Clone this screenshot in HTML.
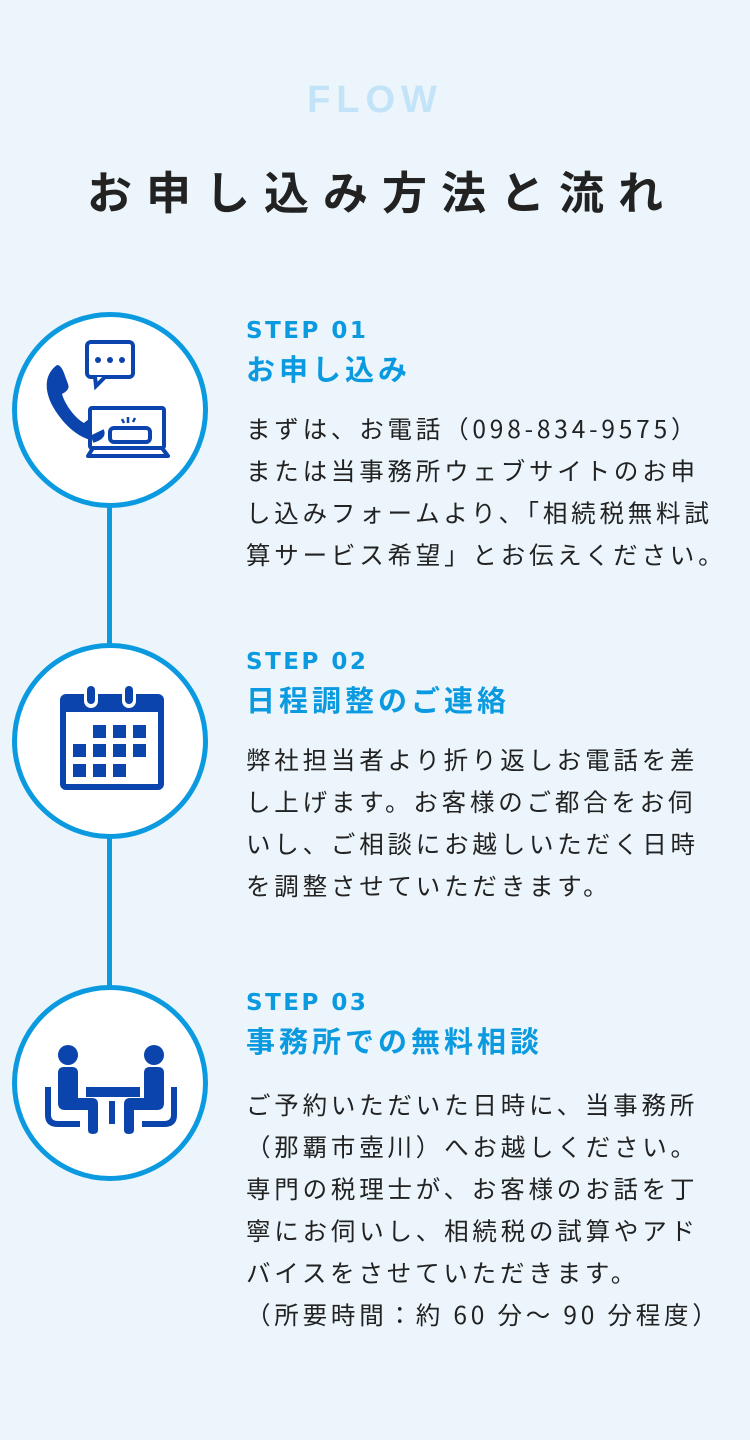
<!DOCTYPE html>
<html><head><meta charset="utf-8"><style>
body{margin:0;width:750px;height:1440px;background:#ebf5fb;position:relative;overflow:hidden;font-family:"Liberation Sans","Noto Sans CJK JP",sans-serif;}
.flow{position:absolute;top:78px;left:0;width:750px;text-align:center;font-size:38px;letter-spacing:6px;color:#c3e4f8;font-weight:bold;line-height:44px;}
h1{position:absolute;top:160px;left:0;width:750px;text-align:center;margin:0;font-size:45px;letter-spacing:14px;color:#222;font-weight:bold;line-height:60px;font-family:"Noto Sans CJK JP",sans-serif;padding-left:14px;box-sizing:border-box}
.circ{position:absolute;left:12px;width:186px;height:186px;border:5px solid #0b9ae0;border-radius:50%;background:#fff;}
.line{position:absolute;left:107px;width:5px;background:#0b9ae0;}
.blk{position:absolute;left:246px;width:500px;}
.step{font-size:23px;letter-spacing:2.5px;color:#0b9ae0;font-weight:bold;line-height:30px;font-family:"DejaVu Sans","Noto Sans CJK JP",sans-serif;}
.tt{font-size:29px;letter-spacing:4px;color:#0b9ae0;font-weight:bold;line-height:40px;font-family:"Noto Sans CJK JP",sans-serif;margin-top:2px}
.bd{font-size:24.5px;letter-spacing:3.8px;color:#222;line-height:42px;margin-top:20px;font-family:"Noto Sans CJK JP",sans-serif;white-space:nowrap}
svg{position:absolute;}
</style></head><body>
<div class="flow">FLOW</div>
<h1>お申し込み方法と流れ</h1>
<div class="line" style="top:500px;height:145px"></div>
<div class="line" style="top:830px;height:156px"></div>
<div class="circ" style="top:312px"></div>
<div class="circ" style="top:643px"></div>
<div class="circ" style="top:985px"></div>

<svg style="left:40px;top:335px" width="140" height="140" viewBox="0 0 140 140" fill="none">
<rect x="47" y="7" width="46" height="35" rx="4" stroke="#0a44ac" stroke-width="4"/>
<path d="M55 42 L56 51 L65 42" stroke="#0a44ac" stroke-width="4" fill="#fff"/>
<circle cx="58" cy="25" r="3" fill="#0a44ac"/><circle cx="70" cy="25" r="3" fill="#0a44ac"/><circle cx="82" cy="25" r="3" fill="#0a44ac"/>
<path d="M17 30 C6 38 3 52 12 70 C22 88 37 103 55 106 C62 106 66 100 62 95 L55 86 C51 82 47 85 44 88 C36 84 25 70 22 59 C26 57 30 54 28 49 L24 38 C22 33 20 30 17 30Z" fill="#0a44ac"/>
<rect x="50" y="73" width="74" height="40" rx="2" stroke="#0a44ac" stroke-width="4" fill="#fff"/>
<path d="M52 104 C58 102 62 100 60 96" stroke="#0a44ac" stroke-width="8"/>
<rect x="70" y="93" width="40" height="14" rx="4" stroke="#0a44ac" stroke-width="4"/>
<path d="M88 82v6M82 84l2 4M95 83l-2 4" stroke="#0a44ac" stroke-width="2.5"/>
<path d="M48 121 L53 113 H122 L128 121Z" stroke="#0a44ac" stroke-width="4" fill="#fff" stroke-linejoin="round"/>
</svg>

<svg style="left:58px;top:684px" width="106" height="110" viewBox="0 0 106 110">
<path d="M8 10 H100 A6 6 0 0 1 106 16 V100 A6 6 0 0 1 100 106 H8 A6 6 0 0 1 2 100 V16 A6 6 0 0 1 8 10Z" fill="#0a44ac"/>
<rect x="8" y="28" width="92" height="72" fill="#fff"/>
<rect x="26" y="2" width="14" height="22" rx="7" fill="#fff"/><rect x="29" y="2" width="8" height="18" rx="4" fill="#0a44ac"/>
<rect x="64" y="2" width="14" height="22" rx="7" fill="#fff"/><rect x="67" y="2" width="8" height="18" rx="4" fill="#0a44ac"/>
<g fill="#0a44ac">
<rect x="35" y="41" width="13" height="13"/><rect x="55" y="41" width="13" height="13"/><rect x="75" y="41" width="13" height="13"/>
<rect x="15" y="60" width="13" height="13"/><rect x="35" y="60" width="13" height="13"/><rect x="55" y="60" width="13" height="13"/><rect x="75" y="60" width="13" height="13"/>
<rect x="15" y="80" width="13" height="13"/><rect x="35" y="80" width="13" height="13"/><rect x="55" y="80" width="13" height="13"/>
</g></svg>

<svg style="left:0;top:980px" width="220" height="210" viewBox="0 980 220 210" fill="#0a44ac">
<g id="p">
<circle cx="68" cy="1055" r="10"/>
<path d="M58 1073 Q58 1067 64 1067 H72 Q78 1067 78 1073 V1098 H92 Q98 1098 98 1104 V1130 Q98 1134 93 1134 Q88 1134 88 1130 V1110 H65 Q58 1110 58 1103Z"/>
<path d="M45 1087 H51 V1115 Q51 1121 58 1121 H80 V1127 H58 Q45 1127 45 1115Z"/>
</g>
<use href="#p" transform="translate(222,0) scale(-1,1)"/>
<rect x="86" y="1087" width="54" height="10"/>
<rect x="109" y="1101" width="6" height="23"/>
</svg>

<div class="blk" style="top:316px"><div class="step">STEP 01</div><div class="tt">お申し込み</div>
<div class="bd">まずは、お電話（098-834-9575）<br>または当事務所ウェブサイトのお申<br>し込みフォームより、「相続税無料試<br>算サービス希望」とお伝えください。</div></div>

<div class="blk" style="top:647px"><div class="step">STEP 02</div><div class="tt">日程調整のご連絡</div>
<div class="bd">弊社担当者より折り返しお電話を差<br>し上げます。お客様のご都合をお伺<br>いし、ご相談にお越しいただく日時<br>を調整させていただきます。</div></div>

<div class="blk" style="top:988px"><div class="step">STEP 03</div><div class="tt">事務所での無料相談</div>
<div class="bd" style="margin-top:24px">ご予約いただいた日時に、当事務所<br>（那覇市壺川）へお越しください。<br>専門の税理士が、お客様のお話を丁<br>寧にお伺いし、相続税の試算やアド<br>バイスをさせていただきます。<br>（所要時間：約 60 分～ 90 分程度）</div></div>
</body></html>
